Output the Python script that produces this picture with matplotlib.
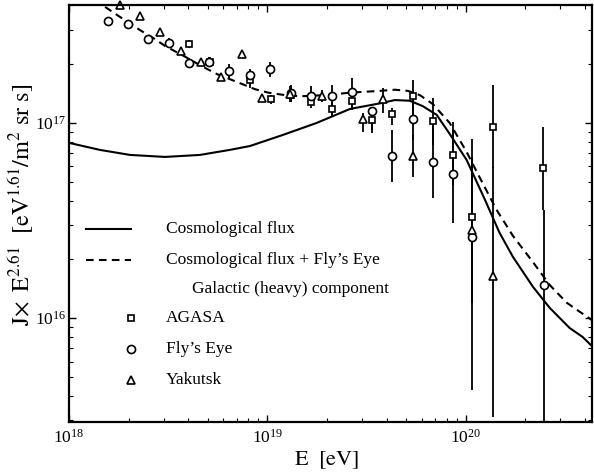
import matplotlib
matplotlib.use("Agg")
import matplotlib.pyplot as plt
import numpy as np
from matplotlib.lines import Line2D

plt.rcParams['font.family'] = ['Liberation Serif', 'DejaVu Serif']
plt.rcParams['mathtext.fontset'] = 'stix'
plt.rcParams['lines.scale_dashes'] = False

# ---- model curves ----
cosmo_E = [1.00e18, 1.43e18, 2.03e18, 3.05e18, 4.57e18, 6.47e18, 8.17e18, 1.20e19,
           1.77e19, 2.61e19, 3.69e19, 4.39e19, 5.22e19, 6.07e19, 7.14e19, 8.30e19,
           1.01e20, 1.25e20, 1.48e20, 1.73e20, 2.18e20, 2.65e20, 3.34e20, 3.88e20, 4.37e20]
cosmo_J = [7.91e16, 7.28e16, 6.86e16, 6.70e16, 6.86e16, 7.28e16, 7.62e16, 8.69e16,
           1.00e17, 1.18e17, 1.26e17, 1.31e17, 1.30e17, 1.22e17, 1.10e17, 8.79e16,
           6.47e16, 4.04e16, 2.74e16, 2.06e16, 1.45e16, 1.13e16, 8.91e15, 8.02e15, 7.13e15]

sum_E = [1.52e18, 1.75e18, 2.28e18, 2.71e18, 3.05e18, 3.71e18, 4.73e18, 5.57e18,
         6.25e18, 7.26e18, 8.65e18, 1.01e19, 1.22e19, 1.46e19, 2.00e19, 2.61e19,
         3.69e19, 4.39e19, 5.11e19, 5.86e19, 6.82e19, 8.30e19, 1.01e20, 1.18e20,
         1.43e20, 1.73e20, 2.18e20, 2.65e20, 3.23e20, 3.75e20, 4.32e20]
sum_J = [3.93e17, 3.57e17, 2.99e17, 2.69e17, 2.48e17, 2.23e17, 1.94e17, 1.78e17,
         1.70e17, 1.60e17, 1.49e17, 1.43e17, 1.39e17, 1.37e17, 1.39e17, 1.43e17,
         1.46e17, 1.48e17, 1.46e17, 1.39e17, 1.25e17, 1.00e17, 7.11e16, 5.22e16,
         3.59e16, 2.64e16, 1.94e16, 1.48e16, 1.20e16, 1.08e16, 9.79e15]

# ---- data: AGASA ----
agasa_E = [4.03e18, 5.13e18, 8.17e18, 1.04e19, 1.31e19, 1.66e19, 2.11e19, 2.67e19,
           3.36e19, 4.24e19, 5.41e19, 6.82e19, 8.61e19, 1.08e20, 1.37e20, 2.44e20]
agasa_J = [2.54e17, 2.05e17, 1.66e17, 1.33e17, 1.39e17, 1.28e17, 1.18e17, 1.30e17,
           1.04e17, 1.11e17, 1.37e17, 1.02e17, 6.86e16, 3.30e16, 9.54e16, 5.89e16]
agasa_hi = [2.66e17, 2.18e17, 1.82e17, 1.39e17, 1.51e17, 1.37e17, 1.28e17, 1.44e17,
            1.14e17, 1.19e17, 1.66e17, 1.34e17, 1.01e17, 8.28e16, 1.57e17, 9.54e16]
agasa_lo = [2.42e17, 1.94e17, 1.51e17, 1.25e17, 1.28e17, 1.19e17, 1.09e17, 1.17e17,
            9.21e16, 9.77e16, 1.10e17, 7.71e16, 4.82e16, 1.20e16, 5.89e16, 3.59e16]

# ---- data: Fly's Eye ----
fly_E = [1.57e18, 1.98e18, 2.50e18, 3.19e18, 4.03e18, 5.07e18, 6.40e18, 8.17e18,
         1.03e19, 1.31e19, 1.66e19, 2.11e19, 2.67e19, 3.36e19, 4.24e19, 5.41e19,
         6.82e19, 8.61e19, 1.08e20, 2.47e20]
fly_J = [3.33e17, 3.21e17, 2.69e17, 2.57e17, 2.03e17, 2.05e17, 1.85e17, 1.76e17,
         1.89e17, 1.43e17, 1.37e17, 1.37e17, 1.44e17, 1.15e17, 6.78e16, 1.05e17,
         6.31e16, 5.48e16, 2.61e16, 1.48e16]
fly_hi = [3.49e17, 3.37e17, 2.82e17, 2.72e17, 2.15e17, 2.18e17, 2.00e17, 1.89e17,
          2.05e17, 1.57e17, 1.55e17, 1.57e17, 1.70e17, 1.21e17, 9.21e16, 1.31e17,
          1.04e17, 9.21e16, 6.70e16, 3.59e16]
fly_lo = [3.18e17, 3.06e17, 2.57e17, 2.42e17, 1.91e17, 1.94e17, 1.70e17, 1.62e17,
          1.72e17, 1.28e17, 1.22e17, 1.07e17, 1.17e17, 8.89e16, 4.99e16, 8.18e16,
          4.13e16, 3.08e16, 4.30e15, 1.00e15]

# ---- data: Yakutsk ----
yak_E = [1.81e18, 2.28e18, 2.87e18, 3.66e18, 4.62e18, 5.83e18, 7.45e18, 9.38e18,
         1.30e19, 1.88e19, 3.03e19, 3.82e19, 5.41e19, 1.08e20, 1.38e20]
yak_J = [4.02e17, 3.53e17, 2.92e17, 2.34e17, 2.05e17, 1.72e17, 2.25e17, 1.34e17,
         1.41e17, 1.37e17, 1.05e17, 1.33e17, 6.78e16, 2.83e16, 1.65e16]
yak_hi = [4.22e17, 3.70e17, 3.06e17, 2.45e17, 2.15e17, 1.80e17, 2.37e17, 1.41e17,
          1.55e17, 1.48e17, 1.13e17, 1.51e17, 8.69e16, 6.70e16, 5.96e16]
yak_lo = [3.84e17, 3.37e17, 2.79e17, 2.23e17, 1.96e17, 1.64e17, 2.15e17, 1.28e17,
          1.28e17, 1.28e17, 8.99e16, 1.13e17, 5.30e16, 1.20e16, 3.13e15]

legend_texts = ["Cosmological flux", "Cosmological flux + Fly\u2019s Eye",
                "Galactic (heavy) component", "AGASA", "Fly\u2019s Eye", "Yakutsk"]

fig = plt.figure(figsize=(5.94, 4.73), dpi=100)
ax = fig.add_axes([69/594, 51/473, 523/594, 417/473])
ax.set_xscale('log')
ax.set_yscale('log')
ax.set_xlim(1e18, 4.33e20)
ax.set_ylim(2.94e15, 4.02e17)

ax.plot(cosmo_E, cosmo_J, color='black', lw=1.5, solid_joinstyle='round')
ax.plot(sum_E, sum_J, color='black', lw=1.5, dashes=(5.5, 3.8))

def errs(J, lo, hi):
    J = np.array(J); return np.vstack([J - np.array(lo), np.array(hi) - J])

common = dict(ls='none', color='black', ecolor='black', elinewidth=1.3, capsize=0,
              mfc='white', mec='black', mew=1.2)
ax.errorbar(agasa_E, agasa_J, yerr=errs(agasa_J, agasa_lo, agasa_hi), marker='s', ms=4.6, **common)
ax.errorbar(fly_E, fly_J, yerr=errs(fly_J, fly_lo, fly_hi), marker='o', ms=5.8, **common)
yk = ax.errorbar(yak_E, yak_J, yerr=errs(yak_J, yak_lo, yak_hi), marker='^', ms=6.2, **common)
yk[0].set_clip_on(False)
for c in yk[2]:
    c.set_clip_on(False)

# legend (manual)
tr = ax.transAxes
ax.add_line(Line2D([0.0325, 0.1185], [0.4628, 0.4628], transform=tr, color='black', lw=1.5))
ax.add_line(Line2D([0.0325, 0.1185], [0.3885, 0.3885], transform=tr, color='black', lw=1.5, dashes=(5.5, 3.8)))
ax.plot([0.1185], [0.2494], transform=tr, marker='s', ms=4.6, mfc='white', mec='black', mew=1.2, ls='none')
ax.plot([0.1185], [0.1751], transform=tr, marker='o', ms=5.8, mfc='white', mec='black', mew=1.2, ls='none')
ax.plot([0.1185], [0.1007], transform=tr, marker='^', ms=6.2, mfc='white', mec='black', mew=1.2, ls='none')
ys = [0.4628, 0.3885, 0.319, 0.2494, 0.1751, 0.1007]
xs = [0.1855, 0.1855, 0.2352, 0.1855, 0.1855, 0.1855]
for x, y, t in zip(xs, ys, legend_texts):
    ax.text(x, y, t, transform=tr, fontsize=12.5, va='center', ha='left')

for s in ax.spines.values():
    s.set_linewidth(1.6)
ax.tick_params(which='both', direction='in', top=True, right=True)
ax.tick_params(which='major', length=5, width=1.0, labelsize=12.5)
ax.tick_params(which='minor', length=3, width=0.8)
ax.tick_params(axis='x', which='major', pad=5)
ax.tick_params(axis='y', which='major', pad=2)

ax.set_xlabel(r'$\mathrm{E\ \ [eV]}$', fontsize=16)
ax.set_ylabel(r'$\mathrm{J\!\times\ E^{2.61}\ \ [eV^{1.61}/m^{2}\ sr\ s]}$', fontsize=17.5)
ax.xaxis.set_label_coords(0.493, -0.067)
ax.yaxis.set_label_coords(-0.064, 0.52)

fig.savefig('out.png', dpi=100)
